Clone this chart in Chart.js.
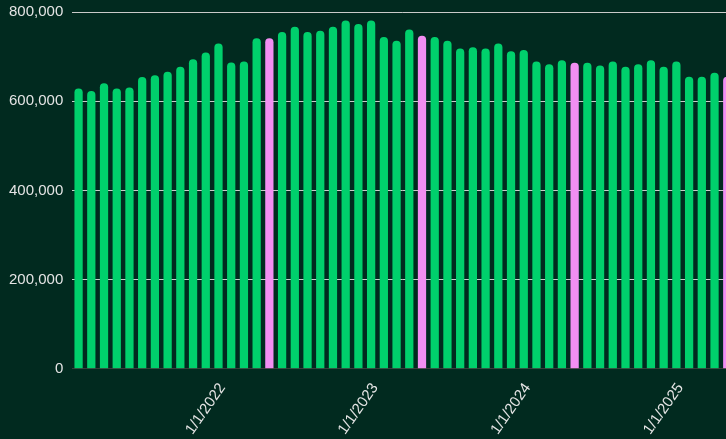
<!DOCTYPE html>
<html>
<head>
<meta charset="utf-8">
<script src="https://cdn.jsdelivr.net/npm/chart.js@4/dist/chart.umd.min.js"></script>
<style>
  html, body { margin: 0; padding: 0; background: #012a1f; overflow: hidden; }
  #wrap { width: 745px; height: 439px; }
</style>
</head>
<body>
<div id="wrap"><canvas id="chart" width="745" height="439"></canvas></div>
<script>
// monthly values, Feb 2021 .. May 2025
var months = [
  "2/1/2021", "3/1/2021", "4/1/2021", "5/1/2021", "6/1/2021", "7/1/2021",
  "8/1/2021", "9/1/2021", "10/1/2021", "11/1/2021", "12/1/2021",
  "1/1/2022", "2/1/2022", "3/1/2022", "4/1/2022", "5/1/2022", "6/1/2022",
  "7/1/2022", "8/1/2022", "9/1/2022", "10/1/2022", "11/1/2022", "12/1/2022",
  "1/1/2023", "2/1/2023", "3/1/2023", "4/1/2023", "5/1/2023", "6/1/2023",
  "7/1/2023", "8/1/2023", "9/1/2023", "10/1/2023", "11/1/2023", "12/1/2023",
  "1/1/2024", "2/1/2024", "3/1/2024", "4/1/2024", "5/1/2024", "6/1/2024",
  "7/1/2024", "8/1/2024", "9/1/2024", "10/1/2024", "11/1/2024", "12/1/2024",
  "1/1/2025", "2/1/2025", "3/1/2025", "4/1/2025", "5/1/2025"
];

var values = [
  628500, 623000, 640000, 628500, 631000, 654000,
  658000, 666000, 677000, 694000, 709000,
  729600, 687000, 689000, 741000, 741000, 755000,
  767000, 755000, 758000, 767000, 781000, 773000,
  781000, 744000, 735500, 761000, 747000, 744000,
  735500, 718000, 721000, 718000, 729600, 712000,
  714600, 689000, 683000, 692000, 686000, 686000,
  680000, 689000, 677000, 683000, 692000, 677000,
  689000, 654600, 654600, 663600, 654600
];

var highlighted = ["5/1/2022", "5/1/2023", "5/1/2024", "5/1/2025"];

var yTicks = [0, 200000, 400000, 600000, 800000];

var green = "#00d06c";
var pink = "#f28ef2";

var barColors = [];
for (var i = 0; i < months.length; i++) {
  barColors.push(highlighted.indexOf(months[i]) >= 0 ? pink : green);
}

var ctx = document.getElementById("chart");
var myChart = new Chart(ctx, {
  type: 'bar',
  data: {
    labels: months,
    datasets: [{
      data: values,
      backgroundColor: barColors,
      hoverBackgroundColor: barColors,
      borderRadius: 4,
      borderSkipped: 'start',
      barPercentage: 0.65,
      categoryPercentage: 1.0
    }]
  },
  options: {
    responsive: false,
    animation: false,
    devicePixelRatio: 1,
    layout: { padding: { left: 0, top: 12, right: 0, bottom: -2 } },
    plugins: { legend: { display: false }, tooltip: { enabled: false } },
    scales: {
      x: {
        grid: { display: false },
        border: { color: '#3a3d3a', width: 1 },
        ticks: {
          autoSkip: false,
          minRotation: 55,
          maxRotation: 55,
          labelOffset: 4,
          color: '#e4e4e4',
          font: { family: 'Liberation Sans, Arial', size: 15 },
          callback: function(val, idx) {
            var l = months[idx];
            return l.indexOf("1/1/") === 0 ? l : '';
          }
        }
      },
      y: {
        min: 0,
        max: 800000,
        afterBuildTicks: function(axis) {
          axis.ticks = yTicks.map(function(v) { return { value: v }; });
        },
        afterFit: function(axis) {
          axis.paddingTop = 0;
        },
        border: { display: false },
        grid: {
          drawTicks: false,
          lineWidth: 1,
          color: function(c) { return c.tick && c.tick.value === 0 ? '#3a3d3a' : '#c9cbc9'; }
        },
        ticks: {
          padding: 9,
          color: '#e4e4e4',
          font: { family: 'Liberation Sans, Arial', size: 15 },
          callback: function(v) { return v.toLocaleString('en-US'); }
        }
      }
    }
  }
});
</script>
</body>
</html>
